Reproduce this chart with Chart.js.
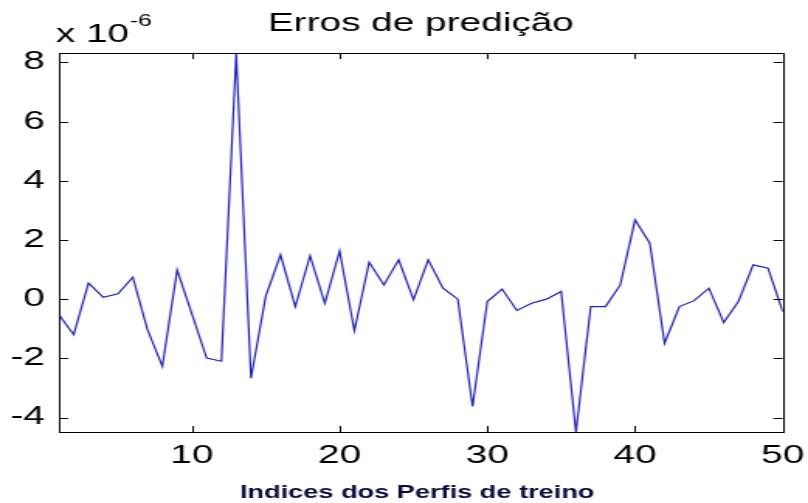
<!DOCTYPE html>
<html>
<head>
<meta charset="utf-8">
<script src="https://cdn.jsdelivr.net/npm/chart.js@4.4.1/dist/chart.umd.min.js"></script>
<style>
  html, body { margin: 0; padding: 0; background: #fff; overflow: hidden; }
  /* the reference is stretched horizontally, so draw narrow and stretch the whole chart */
  #wrap { width: 521px; height: 503px; transform: scaleX(1.5509); transform-origin: 0 0; }
</style>
</head>
<body>
<div id="wrap"><canvas id="chart" width="521" height="503"></canvas></div>
<script>
// training profile indices
const indices = [1, 2, 3, 4, 5, 6, 7, 8, 9, 10,
  11, 12, 13, 14, 15, 16, 17, 18, 19, 20,
  21, 22, 23, 24, 25, 26, 27, 28, 29, 30,
  31, 32, 33, 34, 35, 36, 37, 38, 39, 40,
  41, 42, 43, 44, 45, 46, 47, 48, 49, 50];

// prediction errors, in units of 1e-6
const errors = [-0.53, -1.2, 0.54, 0.06, 0.18, 0.74, -1.04, -2.27, 0.99, -0.5,
  -1.99, -2.1, 8.3, -2.67, 0.1, 1.5, -0.25, 1.46, -0.14, 1.63,
  -1.06, 1.25, 0.48, 1.33, -0.02, 1.33, 0.37, 0.0, -3.63, -0.08,
  0.34, -0.38, -0.14, 0.0, 0.26, -4.5, -0.25, -0.25, 0.48, 2.68,
  1.89, -1.49, -0.25, -0.05, 0.37, -0.79, -0.08, 1.16, 1.05, -0.42];

const xTicks = [10, 20, 30, 40, 50];
const yTicks = [-4, -2, 0, 2, 4, 6, 8];
const xRange = [1, 50];
const yRange = [-4.49, 8.32];

const titleText = 'Erros de predição';
const xLabelText = 'Indices dos Perfis de treino';
const expBase = 'x 10';
const expPower = '-6';

const FONT = '"Liberation Sans", Arial, Helvetica, sans-serif';

// frame, inward ticks on all four sides, title and labels (matlab look)
const matlabFrame = {
  id: 'matlabFrame',
  afterDraw(chart) {
    const ctx = chart.ctx;
    const a = chart.chartArea;
    const xs = chart.scales.x;
    const ys = chart.scales.y;
    const tick = 6;
    ctx.save();
    ctx.strokeStyle = '#000';
    ctx.lineWidth = 1;
    ctx.strokeRect(Math.round(a.left) + 0.5, Math.round(a.top) + 0.5,
      Math.round(a.right - a.left), Math.round(a.bottom - a.top));
    ctx.beginPath();
    xTicks.forEach(v => {
      const px = Math.round(xs.getPixelForValue(v)) + 0.5;
      ctx.moveTo(px, a.bottom); ctx.lineTo(px, a.bottom - tick);
      ctx.moveTo(px, a.top); ctx.lineTo(px, a.top + tick);
    });
    yTicks.forEach(v => {
      const py = Math.round(ys.getPixelForValue(v)) + 0.5;
      ctx.moveTo(a.left, py); ctx.lineTo(a.left + tick, py);
      ctx.moveTo(a.right, py); ctx.lineTo(a.right - tick, py);
    });
    ctx.stroke();

    ctx.fillStyle = '#000';
    ctx.textBaseline = 'alphabetic';
    ctx.font = '25px ' + FONT;
    ctx.textAlign = 'center';
    ctx.fillText(titleText, (a.left + a.right) / 2, 31);

    ctx.textAlign = 'left';
    ctx.fillText(expBase, 36, 42);
    const w = ctx.measureText(expBase).width;
    ctx.font = '16px ' + FONT;
    ctx.fillText(expPower, 36 + w + 0.5, 26);

    ctx.font = 'bold 17.5px ' + FONT;
    ctx.fillStyle = '#0c0c3c';
    ctx.textAlign = 'center';
    ctx.fillText(xLabelText, 269, 498);
    ctx.restore();
  }
};

new Chart(document.getElementById('chart'), {
  type: 'line',
  data: {
    datasets: [{
      data: indices.map((x, i) => ({ x: x, y: errors[i] })),
      borderColor: '#2222b8',
      borderWidth: 1.2,
      pointRadius: 0,
      tension: 0,
      fill: false
    }]
  },
  options: {
    responsive: false,
    animation: false,
    devicePixelRatio: 1,
    layout: { padding: { top: 53, right: 16.3, left: 0, bottom: 0 } },
    plugins: { legend: { display: false }, title: { display: false }, tooltip: { enabled: false } },
    scales: {
      x: {
        type: 'linear',
        min: xRange[0],
        max: xRange[1],
        afterBuildTicks: s => { s.ticks = xTicks.map(v => ({ value: v })); },
        afterFit: s => { s.height = 71; s.paddingLeft = 0; s.paddingRight = 0; },
        grid: { display: false, drawTicks: false },
        border: { display: false },
        ticks: { color: '#000', padding: 9, maxRotation: 0, font: { family: FONT, size: 25 } }
      },
      y: {
        min: yRange[0],
        max: yRange[1],
        afterBuildTicks: s => { s.ticks = yTicks.map(v => ({ value: v })); },
        afterFit: s => { s.width = 38; s.paddingTop = 0; s.paddingBottom = 0; },
        grid: { display: false, drawTicks: false },
        border: { display: false },
        ticks: { color: '#000', padding: 9, font: { family: FONT, size: 25 } }
      }
    }
  },
  plugins: [matlabFrame]
});
</script>
</body>
</html>
